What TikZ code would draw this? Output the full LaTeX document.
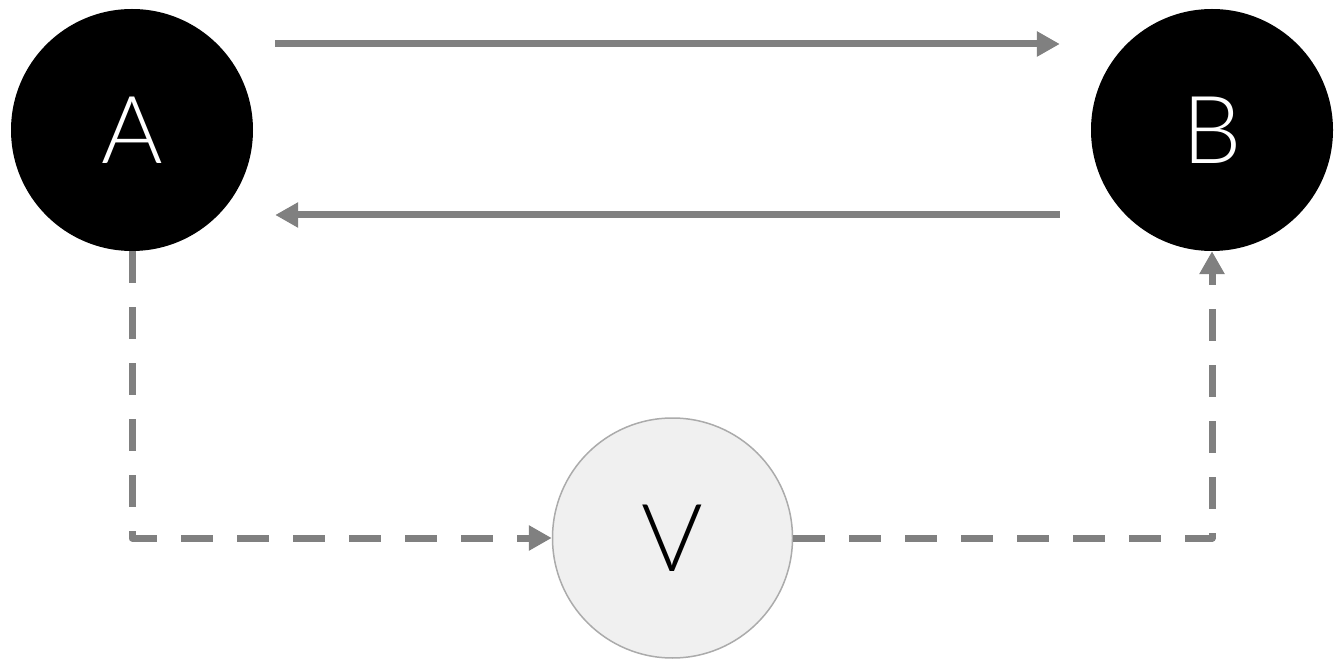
\documentclass[tikz,border=0pt]{standalone}
\usepackage{fontspec}
\setmainfont{Lato}[UprightFont=* Light]
\usetikzlibrary{arrows.meta}
\tikzset{
  bignode/.style={circle, fill=black, draw=none, minimum size=242, inner sep=0, text=white, font=\fontsize{94}{94}\selectfont},
  midnode/.style={circle, fill=black!6, draw=black!33, line width=1.5, minimum size=240, inner sep=0, text=black, font=\fontsize{94}{94}\selectfont},
  conn/.style={draw=black!50, line width=7, -{Triangle[length=23,width=24]}},
  dconn/.style={conn, dash pattern=on 32 off 24, line join=round}
}
\begin{document}
\begin{tikzpicture}[x=1pt,y=-1pt]
\useasboundingbox (0,0) rectangle (1342,660);
\node[bignode] (A) at (132,130) {A};
\node[bignode] (B) at (1212,130) {B};
\node[midnode] (V) at (672.5,538) {V};
\draw[conn] ([shift={(22,-86)}]A.east) -- ([shift={(-31,-86)}]B.west);
\draw[conn] ([shift={(-31,85)}]B.west) -- ([shift={(22,85)}]A.east);
\draw[dconn] (A.south) |- (V.west);
\draw[dconn] (V.east) -| (B.south);
\end{tikzpicture}
\end{document}
